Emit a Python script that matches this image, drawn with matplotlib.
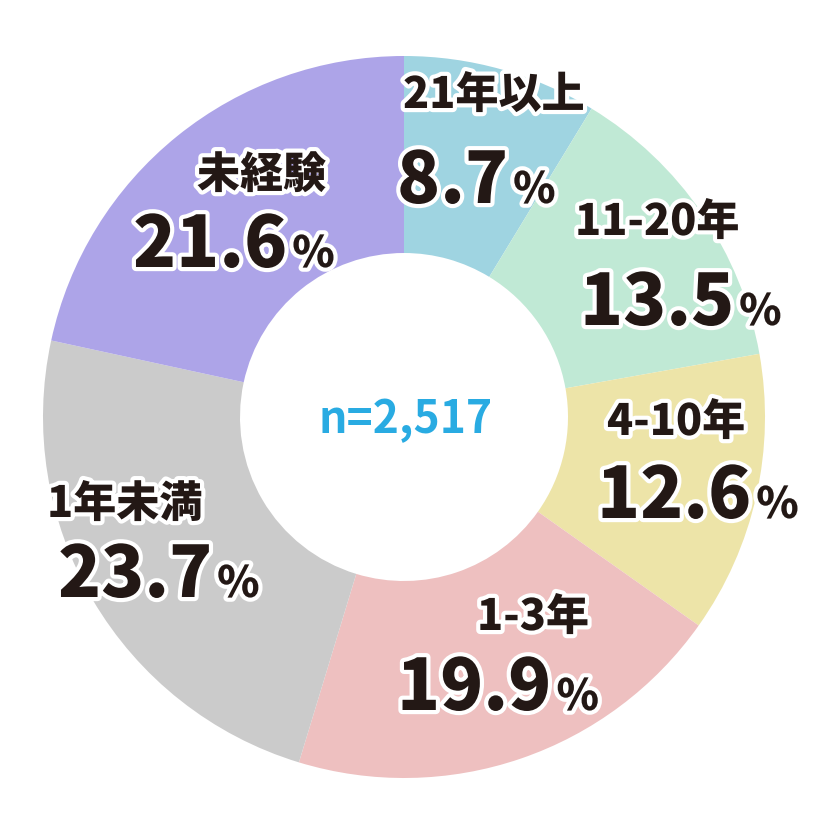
import matplotlib
matplotlib.use("Agg")
import matplotlib.pyplot as plt
import matplotlib.patheffects as pe

# data
labels = ["21年以上", "11-20年", "4-10年", "1-3年", "1年未満", "未経験"]
shares = [8.7, 13.5, 12.6, 19.9, 23.7, 21.6]
n_text = "n=2,517"

colors = ["#9fd4e1", "#c0e9d5", "#ede4a8", "#eec0c0", "#cbcbcb", "#ada4e8"]

# text positions in pixels (top-left origin): label (x, baseline), number (x, baseline)
label_pos = [(403, 108), (575, 235), (607, 435), (477, 630), (47, 517), (197, 188)]
num_pos = [(397, 203), (580, 325), (597, 518), (397, 710), (58, 597), (133, 267)]

W = H = 834
plt.rcParams['font.family'] = ['Noto Sans CJK JP', 'DejaVu Sans']

fig = plt.figure(figsize=(8.34, 8.34), dpi=100)
ax = fig.add_axes([0, 0, 1, 1])

ax.pie(shares, colors=colors, startangle=90, counterclock=False,
       center=(404, H - 417), radius=361,
       wedgeprops=dict(width=197, linewidth=0))

# pie() resets the limits, so set them afterwards
ax.set_xlim(0, W)
ax.set_ylim(0, H)
ax.set_aspect('equal')
ax.axis('off')

dark = "#231815"
stroke = [pe.withStroke(linewidth=6, foreground="white")]

fig.canvas.draw()
renderer = fig.canvas.get_renderer()

for lab, val, (lx, ly), (nx, ny) in zip(labels, shares, label_pos, num_pos):
    ax.text(lx, H - ly, lab, fontsize=31, fontweight='heavy', color=dark,
            ha='left', va='baseline', path_effects=stroke)
    t = ax.text(nx, H - ny, f"{val:.1f}", fontsize=51, fontweight='heavy', color=dark,
                ha='left', va='baseline', path_effects=stroke)
    bb = t.get_window_extent(renderer)
    ax.text(bb.x1 + 5, H - ny, "%", fontsize=31, fontweight='heavy', color=dark,
            ha='left', va='baseline', path_effects=stroke)

ax.text(406, H - 433, n_text, fontsize=32, fontweight='bold', color="#29abe2",
        ha='center', va='baseline')

fig.savefig("out.png", dpi=100)
